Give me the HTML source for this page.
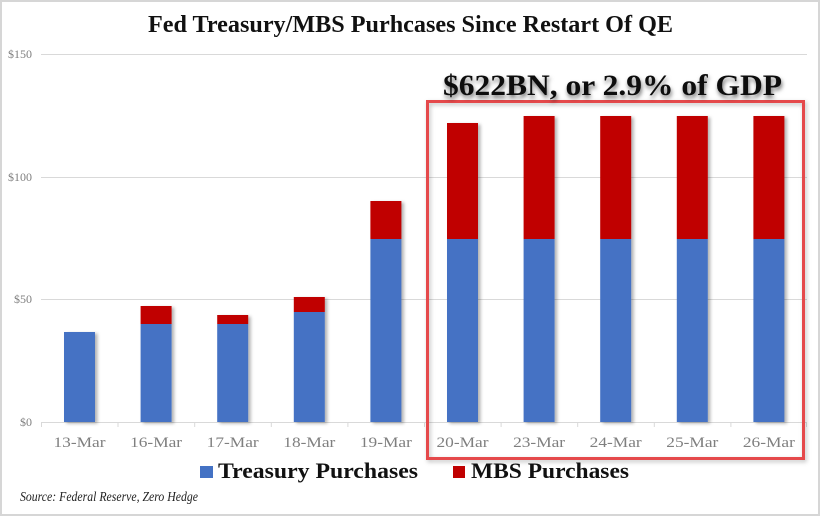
<!DOCTYPE html>
<html><head><meta charset="utf-8"><style>
html,body{margin:0;padding:0;background:#fff;}
svg{display:block;}
</style></head><body>
<svg width="822" height="517" viewBox="0 0 822 517" xmlns="http://www.w3.org/2000/svg">
<defs>
<filter id="sh" x="-20%" y="-5%" width="160%" height="115%">
<feDropShadow dx="2.5" dy="1.5" stdDeviation="1.5" flood-color="#000" flood-opacity="0.3"/>
</filter>
<filter id="tsh" x="-5%" y="-30%" width="110%" height="180%">
<feDropShadow dx="1" dy="3" stdDeviation="2" flood-color="#000" flood-opacity="0.55"/>
</filter>
<filter id="bsh" x="-5%" y="-5%" width="110%" height="110%">
<feDropShadow dx="1.5" dy="2" stdDeviation="2" flood-color="#000" flood-opacity="0.25"/>
</filter>
</defs>
<rect x="0" y="0" width="822" height="517" fill="#fff"/>
<rect x="1" y="1" width="818" height="514" fill="none" stroke="#d6d6d6" stroke-width="2"/>

<text x="148" y="32" font-family="'Liberation Serif',serif" font-weight="bold" font-size="24" fill="#111" textLength="525" lengthAdjust="spacingAndGlyphs">Fed Treasury/MBS Purhcases Since Restart Of QE</text>

<!-- gridlines -->
<g stroke="#d9d9d9" stroke-width="1">
<line x1="41" y1="54.5" x2="807" y2="54.5"/>
<line x1="41" y1="177.5" x2="807" y2="177.5"/>
<line x1="41" y1="299.5" x2="807" y2="299.5"/>
<line x1="41" y1="422.5" x2="807" y2="422.5"/>
</g>
<g stroke="#d9d9d9" stroke-width="1">
<line x1="41.5" y1="422" x2="41.5" y2="427"/>
<line x1="118" y1="422" x2="118" y2="427"/>
<line x1="194.7" y1="422" x2="194.7" y2="427"/>
<line x1="271.3" y1="422" x2="271.3" y2="427"/>
<line x1="347.9" y1="422" x2="347.9" y2="427"/>
<line x1="424.5" y1="422" x2="424.5" y2="427"/>
<line x1="501.1" y1="422" x2="501.1" y2="427"/>
<line x1="577.7" y1="422" x2="577.7" y2="427"/>
<line x1="654.3" y1="422" x2="654.3" y2="427"/>
<line x1="730.9" y1="422" x2="730.9" y2="427"/>
<line x1="806.5" y1="422" x2="806.5" y2="427"/>
</g>

<g font-family="'Liberation Serif',serif" font-size="12" fill="#7f7f7f" text-anchor="end">
<text x="32" y="58">$150</text>
<text x="32" y="181">$100</text>
<text x="32" y="303">$50</text>
<text x="32" y="426">$0</text>
</g>

<!-- bars -->
<g filter="url(#sh)">
<rect x="64" y="332" width="31" height="90" fill="#4472c4"/>

<rect x="140.6" y="324" width="31" height="98" fill="#4472c4"/>
<rect x="140.6" y="306" width="31" height="18" fill="#c00000"/>

<rect x="217.2" y="324" width="31" height="98" fill="#4472c4"/>
<rect x="217.2" y="315" width="31" height="9" fill="#c00000"/>

<rect x="293.8" y="312" width="31" height="110" fill="#4472c4"/>
<rect x="293.8" y="297" width="31" height="15" fill="#c00000"/>

<rect x="370.4" y="239" width="31" height="183" fill="#4472c4"/>
<rect x="370.4" y="201" width="31" height="38" fill="#c00000"/>

<rect x="447" y="239" width="31" height="183" fill="#4472c4"/>
<rect x="447" y="123" width="31" height="116" fill="#c00000"/>

<rect x="523.6" y="239" width="31" height="183" fill="#4472c4"/>
<rect x="523.6" y="116" width="31" height="123" fill="#c00000"/>

<rect x="600.2" y="239" width="31" height="183" fill="#4472c4"/>
<rect x="600.2" y="116" width="31" height="123" fill="#c00000"/>

<rect x="676.8" y="239" width="31" height="183" fill="#4472c4"/>
<rect x="676.8" y="116" width="31" height="123" fill="#c00000"/>

<rect x="753.4" y="239" width="31" height="183" fill="#4472c4"/>
<rect x="753.4" y="116" width="31" height="123" fill="#c00000"/>
</g>

<!-- category labels -->
<g font-family="'Liberation Serif',serif" font-size="14.5" fill="#7f7f7f" text-anchor="middle">
<text x="79.5" y="447" textLength="52" lengthAdjust="spacingAndGlyphs">13-Mar</text>
<text x="156.1" y="447" textLength="52" lengthAdjust="spacingAndGlyphs">16-Mar</text>
<text x="232.7" y="447" textLength="52" lengthAdjust="spacingAndGlyphs">17-Mar</text>
<text x="309.3" y="447" textLength="52" lengthAdjust="spacingAndGlyphs">18-Mar</text>
<text x="385.9" y="447" textLength="52" lengthAdjust="spacingAndGlyphs">19-Mar</text>
<text x="462.5" y="447" textLength="52" lengthAdjust="spacingAndGlyphs">20-Mar</text>
<text x="539.1" y="447" textLength="52" lengthAdjust="spacingAndGlyphs">23-Mar</text>
<text x="615.7" y="447" textLength="52" lengthAdjust="spacingAndGlyphs">24-Mar</text>
<text x="692.3" y="447" textLength="52" lengthAdjust="spacingAndGlyphs">25-Mar</text>
<text x="768.9" y="447" textLength="52" lengthAdjust="spacingAndGlyphs">26-Mar</text>
</g>

<!-- red box -->
<rect x="427.5" y="101.5" width="376" height="357" fill="none" stroke="#e5484b" stroke-width="3" filter="url(#bsh)"/>

<text x="443" y="95" font-family="'Liberation Serif',serif" font-weight="bold" font-size="30" fill="#111" textLength="339" lengthAdjust="spacingAndGlyphs" filter="url(#tsh)">$622BN, or 2.9% of GDP</text>

<!-- legend -->
<rect x="200" y="466" width="13" height="12" fill="#4472c4"/>
<text x="218" y="478" font-family="'Liberation Serif',serif" font-weight="bold" font-size="22" fill="#111" textLength="200" lengthAdjust="spacingAndGlyphs">Treasury Purchases</text>
<rect x="453" y="466" width="12" height="12" fill="#c00000"/>
<text x="471" y="478" font-family="'Liberation Serif',serif" font-weight="bold" font-size="22" fill="#111" textLength="158" lengthAdjust="spacingAndGlyphs">MBS Purchases</text>

<text x="20" y="501" font-family="'Liberation Serif',serif" font-style="italic" font-size="13.5" fill="#222" textLength="178" lengthAdjust="spacingAndGlyphs">Source: Federal Reserve, Zero Hedge</text>
</svg>
</body></html>
